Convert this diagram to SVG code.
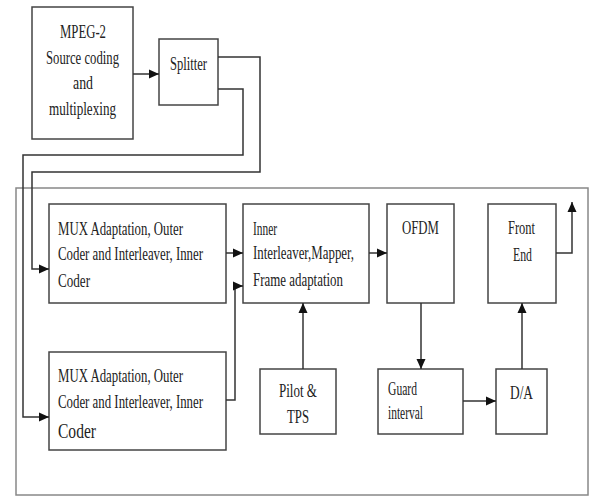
<svg xmlns="http://www.w3.org/2000/svg" width="591" height="497" viewBox="0 0 591 497">
<style>
.box{fill:#fff;stroke:#444;stroke-width:1.5}
.frame{fill:none;stroke:#888;stroke-width:1.5}
.t{font-family:'Liberation Serif','DejaVu Serif',serif;font-size:18px;fill:#222}
.ln{fill:none;stroke:#333;stroke-width:1.5}
</style>
<defs>
<marker id="ah" viewBox="0 0 10 10" refX="10" refY="5" markerWidth="10" markerHeight="10" markerUnits="userSpaceOnUse" orient="auto">
<path d="M0,0.5 L10,5 L0,9.5 z" fill="#111"/>
</marker>
</defs>
<rect class="frame" x="16" y="188" width="572" height="307"/>
<g id="mpeg">
<rect class="box" x="32" y="7" width="101" height="132"/>
<text class="t" x="60" y="38" textLength="46" lengthAdjust="spacingAndGlyphs">MPEG-2</text>
<text class="t" x="46" y="64" textLength="73" lengthAdjust="spacingAndGlyphs">Source coding</text>
<text class="t" x="73" y="89" textLength="20" lengthAdjust="spacingAndGlyphs">and</text>
<text class="t" x="49" y="115" textLength="67" lengthAdjust="spacingAndGlyphs">multiplexing</text>
</g>
<g id="splitter">
<rect class="box" x="159" y="39" width="59" height="66"/>
<text class="t" x="170" y="70" textLength="37" lengthAdjust="spacingAndGlyphs">Splitter</text>
</g>
<g id="mux1">
<rect class="box" x="49" y="204" width="177" height="99"/>
<text class="t" x="58" y="235" textLength="125" lengthAdjust="spacingAndGlyphs">MUX Adaptation, Outer</text>
<text class="t" x="58" y="260" textLength="145" lengthAdjust="spacingAndGlyphs">Coder and Interleaver, Inner</text>
<text class="t" x="58" y="287" textLength="32" lengthAdjust="spacingAndGlyphs">Coder</text>
</g>
<g id="mux2">
<rect class="box" x="49" y="352" width="177" height="98"/>
<text class="t" x="58" y="382" textLength="125" lengthAdjust="spacingAndGlyphs">MUX Adaptation, Outer</text>
<text class="t" x="58" y="408" textLength="145" lengthAdjust="spacingAndGlyphs">Coder and Interleaver, Inner</text>
<text class="t" x="58" y="438" style="font-size:22px" textLength="38" lengthAdjust="spacingAndGlyphs">Coder</text>
</g>
<g id="inner">
<rect class="box" x="243" y="204" width="126" height="99"/>
<text class="t" x="253" y="235" textLength="24" lengthAdjust="spacingAndGlyphs">Inner</text>
<text class="t" x="253" y="259" textLength="101" lengthAdjust="spacingAndGlyphs">Interleaver,Mapper,</text>
<text class="t" x="253" y="286" textLength="90" lengthAdjust="spacingAndGlyphs">Frame adaptation</text>
</g>
<g id="ofdm">
<rect class="box" x="387" y="204" width="67" height="99"/>
<text class="t" x="402" y="234" textLength="37" lengthAdjust="spacingAndGlyphs">OFDM</text>
</g>
<g id="frontend">
<rect class="box" x="488" y="204" width="68" height="99"/>
<text class="t" x="508" y="234" textLength="27" lengthAdjust="spacingAndGlyphs">Front</text>
<text class="t" x="513" y="261" textLength="19" lengthAdjust="spacingAndGlyphs">End</text>
</g>
<g id="pilot">
<rect class="box" x="260" y="369" width="76" height="65"/>
<text class="t" x="279" y="397" textLength="38" lengthAdjust="spacingAndGlyphs">Pilot &amp;</text>
<text class="t" x="287" y="423" textLength="22" lengthAdjust="spacingAndGlyphs">TPS</text>
</g>
<g id="guard">
<rect class="box" x="378" y="369" width="85" height="65"/>
<text class="t" x="388" y="395" textLength="29" lengthAdjust="spacingAndGlyphs">Guard</text>
<text class="t" x="388" y="419" textLength="35" lengthAdjust="spacingAndGlyphs">interval</text>
</g>
<g id="da">
<rect class="box" x="496" y="369" width="51" height="65"/>
<text class="t" x="510" y="399" textLength="23" lengthAdjust="spacingAndGlyphs">D/A</text>
</g>
<g id="connectors">
<path class="ln" d="M133,74 H159" marker-end="url(#ah)"/>
<path class="ln" d="M218,57 H260 V172 H32 V269 H49" marker-end="url(#ah)"/>
<path class="ln" d="M218,89 H243 V155 H23 V417 H49" marker-end="url(#ah)"/>
<path class="ln" d="M226,253 H243" marker-end="url(#ah)"/>
<path class="ln" d="M226,400 H235 V286 H243" marker-end="url(#ah)"/>
<path class="ln" d="M303,369 V303" marker-end="url(#ah)"/>
<path class="ln" d="M369,253 H387" marker-end="url(#ah)"/>
<path class="ln" d="M421,303 V369" marker-end="url(#ah)"/>
<path class="ln" d="M463,401 H496" marker-end="url(#ah)"/>
<path class="ln" d="M522,369 V303" marker-end="url(#ah)"/>
<path class="ln" d="M556,253 H572 V202" marker-end="url(#ah)"/>
</g>
</svg>
